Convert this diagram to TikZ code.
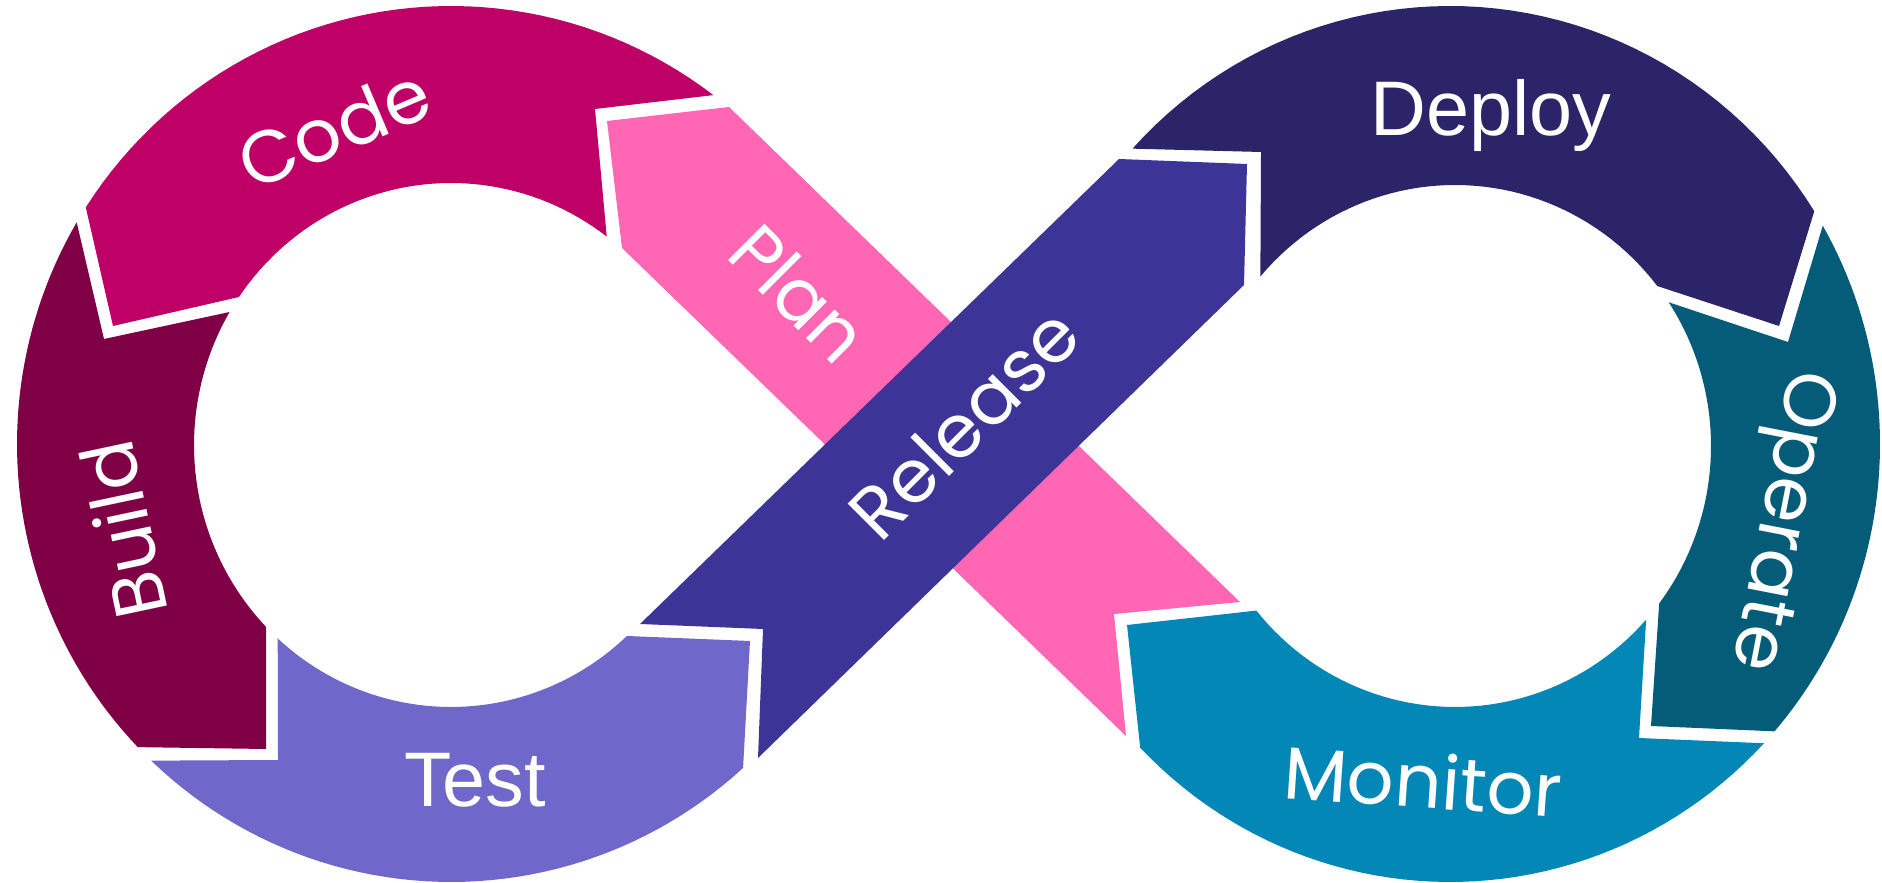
\documentclass[tikz,border=0pt]{standalone}
\usepackage{fontspec}
\newfontfamily\poppins{Poppins}
\newfontfamily\arial{Liberation Sans}

\definecolor{codecoul}{HTML}{BE0067}
\definecolor{buildcoul}{HTML}{800046}
\definecolor{testcoul}{HTML}{6F67C9}
\definecolor{plancoul}{HTML}{FF67B4}
\definecolor{releasecoul}{HTML}{3D3497}
\definecolor{deploycoul}{HTML}{2B2468}
\definecolor{operatecoul}{HTML}{045C78}
\definecolor{monitorcoul}{HTML}{0287B6}

\tikzset{etiquette/.style  = {text = white, inner sep = 0pt, font = \poppins\fontsize{21}{21}\selectfont},
         etiquetteh/.style = {text = white, inner sep = 0pt, font = \arial\fontsize{22}{22}\selectfont},
         arc/.style        = {samples = 50}
        }

\begin{document}
\begin{tikzpicture}[x=0.01cm, y=-0.01cm]
  \useasboundingbox (0,0) rectangle (1882,883);

  % boucle de gauche : bord exterieur (451,444) 434x438, trou (451,445) 257x262
  \fill[codecoul] plot[arc, domain=-147.3:-52.8] ({451+434*cos(\x)}, {444+438*sin(\x)})
    -- (595,109)
    -- plot[arc, domain=-52.7:-145.6] ({451+257*cos(\x)}, {445+262*sin(\x)})
    -- (113,326) -- cycle;
  \fill[buildcoul] plot[arc, domain=210.4:136.2] ({451+434*cos(\x)}, {444+438*sin(\x)})
    -- (266,749)
    -- plot[arc, domain=136:210.5] ({451+257*cos(\x)}, {445+262*sin(\x)})
    -- (104,339) -- cycle;
  \fill[testcoul] plot[arc, domain=47.7:133.7] ({451+434*cos(\x)}, {444+438*sin(\x)})
    -- (278,760)
    -- plot[arc, domain=132.4:46.8] ({451+257*cos(\x)}, {445+262*sin(\x)})
    -- (750,641) -- cycle;

  % les deux diagonales
  \fill[plancoul] (607,121) -- (729,107) -- (1240,602) -- (1114,614) -- (1126,736) -- (622,248) -- cycle;
  \fill[releasecoul] (640,624) -- (1119,159) -- (1247,164) -- (1244,285) -- (758,758) -- (763,629) -- cycle;

  % boucle de droite : bord exterieur (1450,444) 430x438, trou (1455,446) 256x261
  \fill[deploycoul] plot[arc, domain=-137.6:-32.1] ({1450+430*cos(\x)}, {444+438*sin(\x)})
    -- (1779,326)
    -- plot[arc, domain=-37.8:-139.5] ({1455+256*cos(\x)}, {446+261*sin(\x)})
    -- (1261,152) -- cycle;
  \fill[operatecoul] plot[arc, domain=-29.9:41] ({1450+430*cos(\x)}, {444+438*sin(\x)})
    -- (1651,726)
    -- plot[arc, domain=37.1:-33.4] ({1455+256*cos(\x)}, {446+261*sin(\x)})
    -- (1788,342) -- cycle;
  \fill[monitorcoul] plot[arc, domain=43.1:136.1] ({1450+430*cos(\x)}, {444+438*sin(\x)})
    -- (1127,625)
    -- plot[arc, domain=140.9:41.7] ({1455+256*cos(\x)}, {446+261*sin(\x)})
    -- (1639,738) -- cycle;

  % etiquettes
  \node[etiquette, rotate=23]   (code)    at (334,128)  {Code};
  \node[etiquette, rotate=102]  (build)   at (123,530)  {Build};
  \node[etiquetteh]             (test)    at (475,780)  {Test};
  \node[etiquette, rotate=-45]  (plan)    at (799,293)  {Plan};
  \node[etiquette, rotate=45]   (release) at (964,423)  {Release};
  \node[etiquetteh]             (deploy)  at (1491,116) {Deploy};
  \node[etiquette, rotate=-101] (operate) at (1778,520) {Operate};
  \node[etiquette, rotate=-4]   (monitor) at (1423,780) {Monitor};
\end{tikzpicture}
\end{document}
